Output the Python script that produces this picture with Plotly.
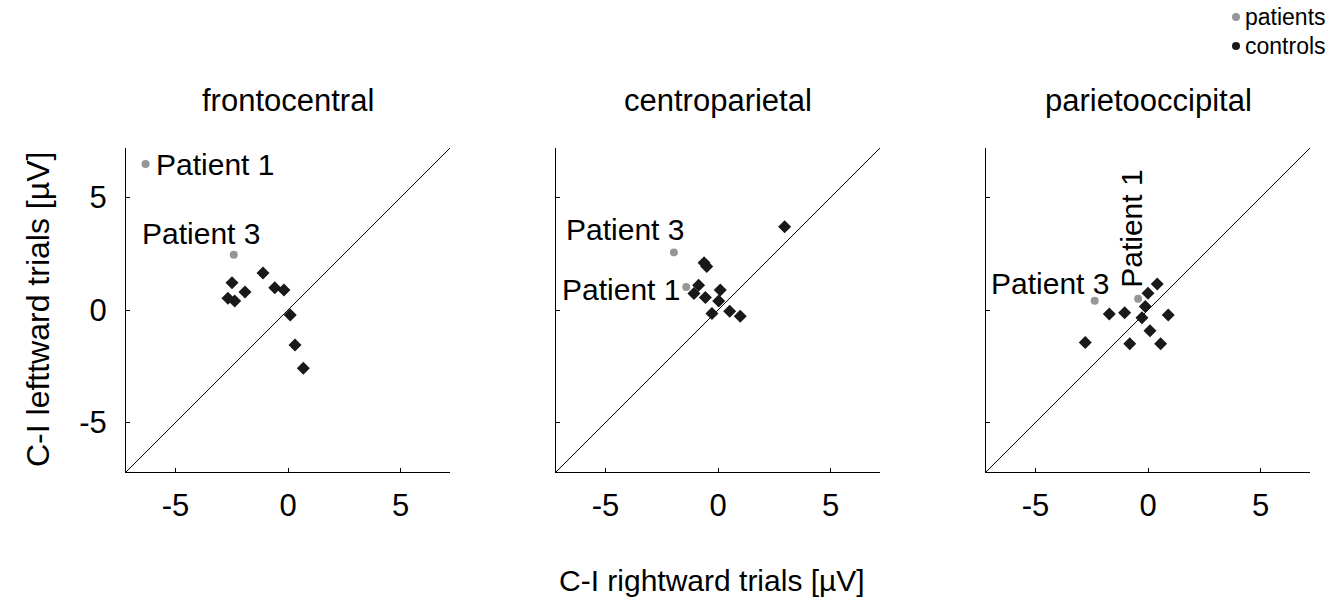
import plotly.graph_objects as go

# Regions shown in the three panels
regions = ["frontocentral", "centroparietal", "parietooccipital"]

# Control subjects: C-I rightward (x) vs C-I leftward (y), in µV
ctrl_x_fc = [-2.49, -2.67, -2.37, -1.91, -1.11, -0.59, -0.18, 0.10, 0.31, 0.68]
ctrl_y_fc = [1.21, 0.52, 0.40, 0.80, 1.64, 0.99, 0.89, -0.22, -1.56, -2.59]
ctrl_x_cp = [2.96, -0.62, -0.50, -0.86, -1.07, -0.56, 0.10, 0.03, -0.27, 0.52, 0.99]
ctrl_y_cp = [3.70, 2.10, 1.93, 1.10, 0.73, 0.56, 0.89, 0.40, -0.16, -0.06, -0.28]
ctrl_x_po = [0.41, 0.00, -0.12, -0.27, -1.72, -1.04, 0.90, -2.79, -0.81, 0.09, 0.56]
ctrl_y_po = [1.16, 0.74, 0.15, -0.34, -0.18, -0.12, -0.22, -1.44, -1.50, -0.92, -1.50]

# Patients 1 and 3
pat_x_fc = [-6.33, -2.41]
pat_y_fc = [6.49, 2.46]
pat_x_cp = [-1.41, -1.96]
pat_y_cp = [1.02, 2.56]
pat_x_po = [-0.44, -2.37]
pat_y_po = [0.50, 0.41]

tick_vals = [-5, 0, 5]
tick_text = ["-5", "0", "5"]
axis_lim = 7.2

FONT = "Liberation Sans, Arial, Helvetica, sans-serif"
W, H = 1333, 608
GREY = "rgb(150,150,150)"
BLACK = "rgb(25,25,25)"

# Pixel frames of the three square panels
panel_px = [(126, 450), (556, 880), (986, 1310)]
top_px, bottom_px = 148, 472

fig = go.Figure()

ctrl = [(ctrl_x_fc, ctrl_y_fc), (ctrl_x_cp, ctrl_y_cp), (ctrl_x_po, ctrl_y_po)]
pats = [(pat_x_fc, pat_y_fc), (pat_x_cp, pat_y_cp), (pat_x_po, pat_y_po)]

for i in range(3):
    xa = "x" if i == 0 else f"x{i+1}"
    ya = "y" if i == 0 else f"y{i+1}"
    # identity line
    fig.add_trace(go.Scatter(x=[-axis_lim, axis_lim], y=[-axis_lim, axis_lim],
                             mode="lines", line=dict(color="black", width=1),
                             xaxis=xa, yaxis=ya, showlegend=False, hoverinfo="skip"))
    fig.add_trace(go.Scatter(x=ctrl[i][0], y=ctrl[i][1], mode="markers",
                             marker=dict(symbol="diamond", size=10, color=BLACK),
                             xaxis=xa, yaxis=ya, showlegend=False))
    fig.add_trace(go.Scatter(x=pats[i][0], y=pats[i][1], mode="markers",
                             marker=dict(symbol="circle", size=8, color=GREY),
                             xaxis=xa, yaxis=ya, showlegend=False))

    l, r = panel_px[i]
    axis_common = dict(range=[-axis_lim, axis_lim], tickvals=tick_vals, ticktext=tick_text,
                       showgrid=False, zeroline=False, showline=True, linecolor="black",
                       linewidth=1, ticks="inside", ticklen=4, tickcolor="black",
                       tickfont=dict(family=FONT, size=31, color="black"))
    key = "" if i == 0 else str(i + 1)
    fig.layout["xaxis" + key] = dict(domain=[l / W, r / W], anchor=ya,
                                     ticklabelstandoff=6, **axis_common)
    fig.layout["yaxis" + key] = dict(domain=[1 - bottom_px / H, 1 - top_px / H], anchor=xa,
                                     showticklabels=(i == 0), ticklabelstandoff=12,
                                     **axis_common)
    # panel title
    fig.add_annotation(text=regions[i], xref="paper", yref="paper",
                       x=((l + r) / 2) / W, y=1 - 100 / H, showarrow=False,
                       font=dict(family=FONT, size=31, color="black"),
                       xanchor="center", yanchor="middle")

lab_font = dict(family=FONT, size=30, color="black")
# patient labels
fig.add_annotation(text="Patient 1", x=-5.95, y=6.45, xref="x", yref="y", showarrow=False,
                   xanchor="left", yanchor="middle", font=lab_font)
fig.add_annotation(text="Patient 3", x=-3.87, y=3.41, xref="x", yref="y", showarrow=False,
                   xanchor="center", yanchor="middle", font=lab_font)
fig.add_annotation(text="Patient 3", x=-4.15, y=3.56, xref="x2", yref="y2", showarrow=False,
                   xanchor="center", yanchor="middle", font=lab_font)
fig.add_annotation(text="Patient 1", x=-1.6, y=0.89, xref="x2", yref="y2", showarrow=False,
                   xanchor="right", yanchor="middle", font=lab_font)
fig.add_annotation(text="Patient 3", x=-4.37, y=1.19, xref="x3", yref="y3", showarrow=False,
                   xanchor="center", yanchor="middle", font=lab_font)
fig.add_annotation(text="Patient 1", x=-0.73, y=3.59, xref="x3", yref="y3", showarrow=False,
                   xanchor="center", yanchor="middle", textangle=-90, font=lab_font)

# shared axis titles
fig.add_annotation(text="C-I rightward trials [µV]", xref="paper", yref="paper",
                   x=712 / W, y=1 - 580 / H, showarrow=False, xanchor="center",
                   yanchor="middle", font=dict(family=FONT, size=30, color="black"))
fig.add_annotation(text="C-I lefttward trials [µV]", xref="paper", yref="paper",
                   x=38 / W, y=1 - 310 / H, showarrow=False, xanchor="center",
                   yanchor="middle", textangle=-90,
                   font=dict(family=FONT, size=32, color="black"))

# legend drawn as marker + text entries
legend_items = [("patients", GREY, 17), ("controls", BLACK, 46)]
for name, col, ypx in legend_items:
    fig.add_shape(type="circle", xref="paper", yref="paper",
                  x0=1232 / W, x1=1240 / W, y0=1 - (ypx + 4) / H, y1=1 - (ypx - 4) / H,
                  fillcolor=col, line=dict(width=0))
    fig.add_annotation(text=name, xref="paper", yref="paper", x=1243 / W, y=1 - ypx / H,
                       showarrow=False, xanchor="left", yanchor="middle",
                       font=dict(family=FONT, size=23, color="black"))

fig.update_layout(width=W, height=H, margin=dict(l=0, r=0, t=0, b=0),
                  paper_bgcolor="white", plot_bgcolor="white", showlegend=False)

fig.write_html("out.html")
